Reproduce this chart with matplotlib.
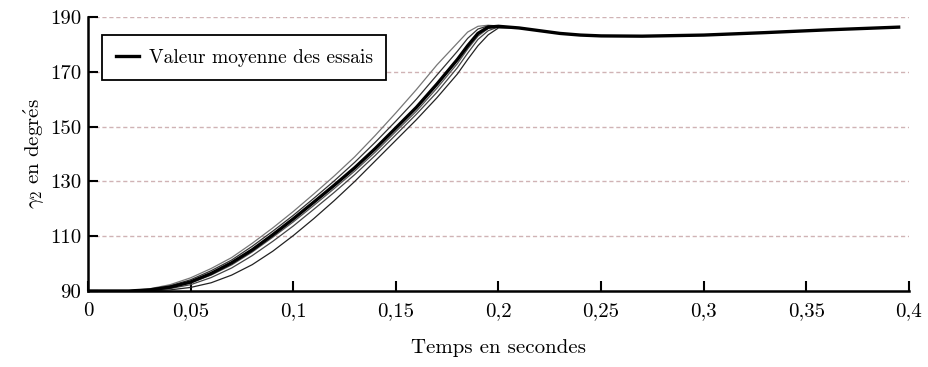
import matplotlib.pyplot as plt
import matplotlib as mpl

# temps (s) commun aux courbes des essais pendant la montee
t_rise = [0, 0.02, 0.03, 0.04, 0.05, 0.06, 0.07, 0.08, 0.09, 0.10, 0.11, 0.12,
          0.13, 0.14, 0.15, 0.16, 0.17, 0.18, 0.185, 0.19, 0.195, 0.2, 0.21]

# essais individuels (gamma_2 en degres)
essai_a = [90, 90.1, 90.8, 92.3, 94.8, 98.2, 102.2, 107.4, 113, 119, 125.4, 132,
           139, 146.8, 155, 163.5, 172.5, 180.5, 184.5, 186.6, 187, 186.7, 186]
essai_b = [90, 90, 90.6, 91.9, 94.1, 97.4, 101.3, 106.3, 111.8, 117.6, 123.8, 130.2,
           137, 144.3, 152, 160, 168.8, 177.5, 182.2, 185.6, 186.8, 186.7, 186]
essai_c = [90, 90, 90.3, 91.2, 92.9, 95.8, 99.5, 104.2, 109.6, 115.2, 121.2, 127.4,
           133.8, 140.7, 148.2, 155.6, 164, 173, 178.3, 183, 185.8, 186.5, 186]
essai_d = [90, 90, 90.2, 90.9, 92.3, 94.9, 98.4, 102.9, 108.1, 113.7, 119.8, 126,
           132.5, 139.5, 147, 154.5, 162.5, 171.5, 176.8, 181.8, 185, 186.4, 186]
essai_e = [90, 90, 90, 90.4, 91.3, 93, 95.8, 99.6, 104.5, 110.2, 116.4, 123,
           130, 137.5, 145, 152.5, 160.5, 169.2, 174.5, 179.5, 183.5, 186, 186]

# valeur moyenne des essais
t_mean = [0, 0.02, 0.03, 0.04, 0.05, 0.06, 0.07, 0.08, 0.09, 0.10, 0.11, 0.12,
          0.13, 0.14, 0.15, 0.16, 0.17, 0.18, 0.185, 0.19, 0.195, 0.2, 0.21,
          0.22, 0.23, 0.24, 0.25, 0.27, 0.3, 0.33, 0.36, 0.395]
moyenne = [90, 90, 90.4, 91.4, 93.3, 96.4, 100.3, 105, 110.5, 116.3, 122.4, 128.6,
           135, 142, 149.5, 157, 165.5, 174.5, 179.5, 184, 186.3, 186.6, 186,
           185, 184, 183.4, 183.1, 183, 183.4, 184.3, 185.3, 186.3]

x_ticks = [0, 0.05, 0.1, 0.15, 0.2, 0.25, 0.3, 0.35, 0.4]
x_labels = ['0', '0,05', '0,1', '0,15', '0,2', '0,25', '0,3', '0,35', '0,4']
y_ticks = [90, 110, 130, 150, 170, 190]

mpl.rcParams['font.family'] = ['cmr10', 'DejaVu Serif']
mpl.rcParams['mathtext.fontset'] = 'cm'
mpl.rcParams['axes.formatter.use_mathtext'] = True

fig = plt.figure(figsize=(9.29, 3.67), dpi=100)
ax = fig.add_axes([0.0947, 0.2071, 0.8837, 0.7466])

for ess, col in [(essai_a, '#777777'), (essai_b, '#333333'), (essai_c, '#555555'),
                 (essai_d, '#444444'), (essai_e, '#222222')]:
    ax.plot(t_rise, ess, color=col, lw=0.9)

ax.plot(t_mean, moyenne, color='black', lw=2.4, label='Valeur moyenne des essais')

ax.set_xlim(0, 0.4)
ax.set_ylim(90, 190)
ax.set_xticks(x_ticks)
ax.set_xticklabels(x_labels)
ax.set_yticks(y_ticks)
ax.set_yticklabels([str(v) for v in y_ticks])
ax.tick_params(direction='in', length=7, width=1.5, labelsize=15, pad=8)
ax.tick_params(axis='y', pad=5)

for v in y_ticks[1:]:
    ax.axhline(v, color='#d0b3b5', lw=1.0, ls=(0, (3, 2)), zorder=0)

for s in ['top', 'right']:
    ax.spines[s].set_visible(False)
for s in ['left', 'bottom']:
    ax.spines[s].set_linewidth(1.8)

ax.set_xlabel('Temps en secondes', fontsize=15, labelpad=14)
ax.set_ylabel(r"$\gamma_2\ \mathrm{en\ degr\acute{e}s}$", fontsize=15, labelpad=2)

leg = ax.legend(loc='upper left', bbox_to_anchor=(0.017, 0.934), borderaxespad=0,
                fontsize=14, handlelength=1.2, handletextpad=0.5, borderpad=0.7,
                fancybox=False, framealpha=1, edgecolor='black')
leg.get_frame().set_linewidth(1.3)

fig.savefig('out.png', dpi=100)
